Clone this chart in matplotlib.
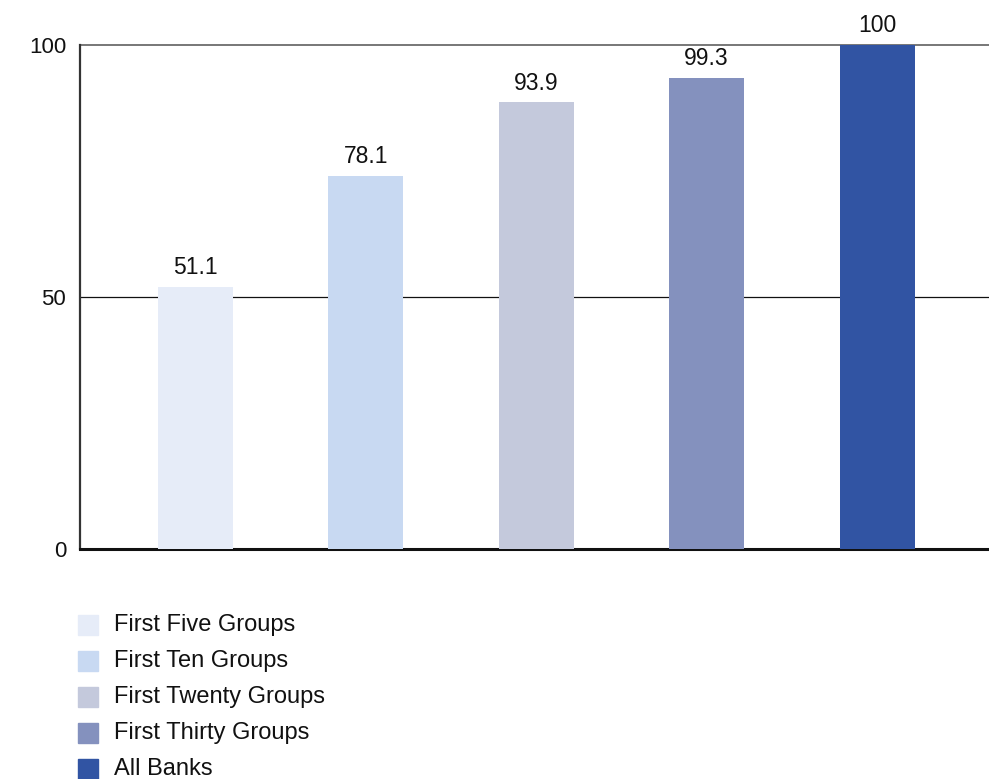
import numpy as np
import matplotlib.pyplot as plt
from matplotlib.patches import Rectangle

plt.rcParams["font.family"] = ["Liberation Sans", "DejaVu Sans"]

# data
groups = ["First Five Groups", "First Ten Groups", "First Twenty Groups",
          "First Thirty Groups", "All Banks"]
bar_heights = [52.0, 74.0, 88.6, 93.5, 100.0]
bar_labels = ["51.1", "78.1", "93.9", "99.3", "100"]
colors = ["#E6ECF8", "#C8D9F2", "#C4C9DC", "#8491BE", "#3154A3"]
yticks = [0, 50, 100]

W, H = 989, 779
fig = plt.figure(figsize=(W / 100, H / 100), dpi=100)
ax = fig.add_axes([80 / W, (H - 549) / H, (W - 80) / W, 504 / H])

x = np.arange(len(groups))
ax.bar(x, bar_heights, width=0.44, color=colors, zorder=3)

for xi, h, lab in zip(x, bar_heights, bar_labels):
    ax.annotate(lab, (xi, h), xytext=(0, 5.5), textcoords="offset points",
                ha="center", va="bottom", fontsize=16.5, color="#111111")

ax.set_xlim(-0.678, 4.657)
ax.set_ylim(0, 100)
ax.set_xticks([])
ax.set_yticks(yticks)
ax.tick_params(axis="y", length=0, pad=10, labelsize=16, labelcolor="#111111")

# horizontal rules
ax.axhline(50, color="#111111", lw=0.9, zorder=1)
ax.axhline(100, color="#777777", lw=1.4, zorder=1, clip_on=False)

for s in ["top", "right"]:
    ax.spines[s].set_visible(False)
ax.spines["left"].set_color("#333333")
ax.spines["left"].set_linewidth(1.6)
ax.spines["bottom"].set_color("#111111")
ax.spines["bottom"].set_linewidth(2.2)

# legend, one row per group
for i, (g, c) in enumerate(zip(groups, colors)):
    yc = 625 + 36 * i
    fig.patches.append(Rectangle((78 / W, (H - yc - 10) / H), 20 / W, 20 / H,
                                 transform=fig.transFigure, color=c))
    fig.text(114 / W, (H - yc) / H, g, ha="left", va="center",
             fontsize=17, color="#111111")

fig.savefig("out.png", dpi=100)
